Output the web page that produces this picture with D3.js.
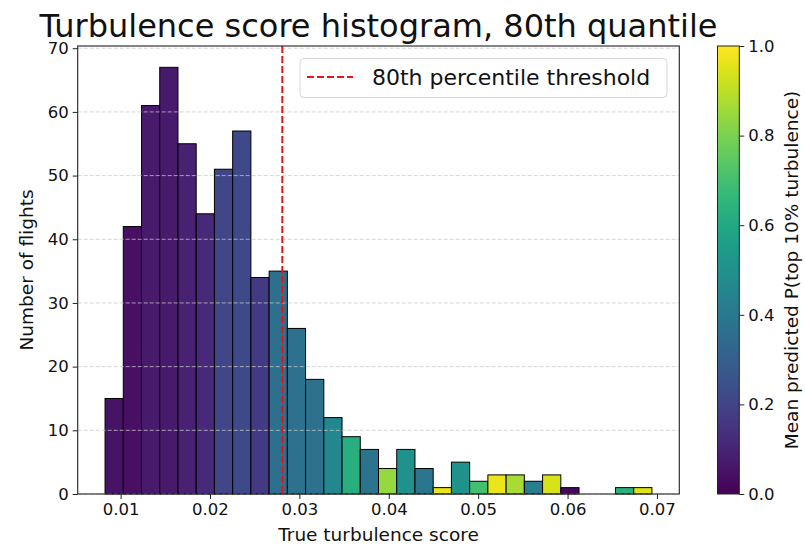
<!DOCTYPE html>
<html>
<head>
<meta charset="utf-8">
<script src="https://cdn.jsdelivr.net/npm/d3@7"></script>
<style>
  html, body { margin: 0; padding: 0; background: #fff; }
  svg { display: block; font-family: "DejaVu Sans", sans-serif; }
</style>
</head>
<body>
<svg id="chart" width="805" height="544"></svg>
<script>
// Histogram bins of the true turbulence score (30 equal-width bins)
const binStart = 0.00826;
const binEnd = 0.06944;
const counts = [15, 42, 61, 67, 55, 44, 51, 57, 34, 35, 26, 18, 12, 9, 7,
                4, 7, 4, 1, 5, 2, 3, 3, 2, 3, 1, 0, 0, 1, 1];
// Mean predicted probability of top-10% turbulence within each bin (null = empty bin)
const meanProb = [0.05, 0.04, 0.07, 0.07, 0.09, 0.11, 0.21, 0.22, 0.17, 0.36,
                  0.37, 0.37, 0.46, 0.63, 0.38, 0.84, 0.50, 0.39, 0.97, 0.51,
                  0.70, 0.97, 0.87, 0.42, 0.94, 0.02, null, null, 0.64, 0.95];
const threshold = 0.02809;
const xTicks = [0.01, 0.02, 0.03, 0.04, 0.05, 0.06, 0.07];
const yTicks = [0, 10, 20, 30, 40, 50, 60, 70];
const cbTicks = [0.0, 0.2, 0.4, 0.6, 0.8, 1.0];

const svg = d3.select("#chart");
const plot = { left: 77.7, right: 679.3, top: 46, bottom: 494 };

const nBins = counts.length;
const binW = (binEnd - binStart) / nBins;
const bins = counts.map((c, i) => ({
  x0: binStart + i * binW, x1: binStart + (i + 1) * binW, count: c, p: meanProb[i]
}));

const pad = (binEnd - binStart) * 0.05;
const x = d3.scaleLinear().domain([binStart - pad, binEnd + pad]).range([plot.left, plot.right]);
const y = d3.scaleLinear().domain([0, d3.max(counts) * 1.05]).range([plot.bottom, plot.top]);
const color = d3.scaleSequential(d3.interpolateViridis).domain([0, 1]);

// Bars
svg.append("g").selectAll("rect")
  .data(bins.filter(b => b.count > 0))
  .join("rect")
  .attr("x", d => x(d.x0))
  .attr("y", d => y(d.count))
  .attr("width", d => x(d.x1) - x(d.x0))
  .attr("height", d => y(0) - y(d.count))
  .attr("fill", d => color(d.p))
  .attr("stroke", "#000")
  .attr("stroke-width", 1);

// Horizontal dashed grid
svg.append("g").selectAll("line")
  .data(yTicks)
  .join("line")
  .attr("x1", plot.left).attr("x2", plot.right)
  .attr("y1", d => y(d)).attr("y2", d => y(d))
  .attr("stroke", "#c8c8c8")
  .attr("stroke-opacity", 0.85)
  .attr("stroke-width", 0.9)
  .attr("stroke-dasharray", "4,2");

// Threshold line
svg.append("line")
  .attr("x1", x(threshold)).attr("x2", x(threshold))
  .attr("y1", plot.top).attr("y2", plot.bottom)
  .attr("stroke", "#e8141c")
  .attr("stroke-width", 2)
  .attr("stroke-dasharray", "7,3");

// Axes frame
svg.append("rect")
  .attr("x", plot.left).attr("y", plot.top)
  .attr("width", plot.right - plot.left).attr("height", plot.bottom - plot.top)
  .attr("fill", "none").attr("stroke", "#222").attr("stroke-width", 1.1);

// X axis
const xAxis = svg.append("g")
  .attr("transform", `translate(0,${plot.bottom})`)
  .call(d3.axisBottom(x).tickValues(xTicks).tickFormat(d3.format(".2f")).tickSize(5).tickPadding(4));
xAxis.select(".domain").remove();
xAxis.selectAll("line").attr("stroke", "#222");
xAxis.selectAll("text").attr("font-size", 16.5).attr("fill", "#111").attr("font-family", "DejaVu Sans");

// Y axis
const yAxis = svg.append("g")
  .attr("transform", `translate(${plot.left},0)`)
  .call(d3.axisLeft(y).tickValues(yTicks).tickFormat(d3.format("d")).tickSize(5).tickPadding(4));
yAxis.select(".domain").remove();
yAxis.selectAll("line").attr("stroke", "#222");
yAxis.selectAll("text").attr("font-size", 16.5).attr("fill", "#111").attr("font-family", "DejaVu Sans");

// Axis labels and title
svg.append("text")
  .attr("x", (plot.left + plot.right) / 2).attr("y", 541)
  .attr("text-anchor", "middle").attr("font-size", 18.5).attr("fill", "#111")
  .text("True turbulence score");
svg.append("text")
  .attr("transform", `translate(33,${(plot.top + plot.bottom) / 2}) rotate(-90)`)
  .attr("text-anchor", "middle").attr("font-size", 18.5).attr("fill", "#111")
  .text("Number of flights");
svg.append("text")
  .attr("x", (plot.left + plot.right) / 2).attr("y", 37)
  .attr("text-anchor", "middle").attr("font-size", 32).attr("fill", "#111")
  .text("Turbulence score histogram, 80th quantile");

// Legend
const lg = svg.append("g");
lg.append("rect")
  .attr("x", 300).attr("y", 58.5).attr("width", 367).attr("height", 39).attr("rx", 4)
  .attr("fill", "#fff").attr("fill-opacity", 0.85)
  .attr("stroke", "#d6d6d6").attr("stroke-width", 1);
lg.append("line")
  .attr("x1", 307).attr("x2", 353).attr("y1", 77).attr("y2", 77)
  .attr("stroke", "#e8141c").attr("stroke-width", 2).attr("stroke-dasharray", "7,3");
lg.append("text")
  .attr("x", 372).attr("y", 85).attr("font-size", 22).attr("fill", "#111")
  .text("80th percentile threshold");

// Colorbar
const cb = { left: 717.5, right: 739.3, top: 46, bottom: 494 };
const defs = svg.append("defs");
const grad = defs.append("linearGradient")
  .attr("id", "viridisGrad").attr("x1", 0).attr("y1", 1).attr("x2", 0).attr("y2", 0);
d3.range(0, 1.0001, 0.05).forEach(t => {
  grad.append("stop").attr("offset", t).attr("stop-color", color(t));
});
svg.append("rect")
  .attr("x", cb.left).attr("y", cb.top)
  .attr("width", cb.right - cb.left).attr("height", cb.bottom - cb.top)
  .attr("fill", "url(#viridisGrad)")
  .attr("stroke", "#222").attr("stroke-width", 1);
const cbScale = d3.scaleLinear().domain([0, 1]).range([cb.bottom, cb.top]);
const cbAxis = svg.append("g")
  .attr("transform", `translate(${cb.right},0)`)
  .call(d3.axisRight(cbScale).tickValues(cbTicks).tickFormat(d3.format(".1f")).tickSize(5).tickPadding(4));
cbAxis.select(".domain").remove();
cbAxis.selectAll("line").attr("stroke", "#222");
cbAxis.selectAll("text").attr("font-size", 16.5).attr("fill", "#111").attr("font-family", "DejaVu Sans");
svg.append("text")
  .attr("transform", `translate(798,${(cb.top + cb.bottom) / 2}) rotate(-90)`)
  .attr("text-anchor", "middle").attr("font-size", 18.5).attr("fill", "#111")
  .text("Mean predicted P(top 10% turbulence)");
</script>
</body>
</html>
